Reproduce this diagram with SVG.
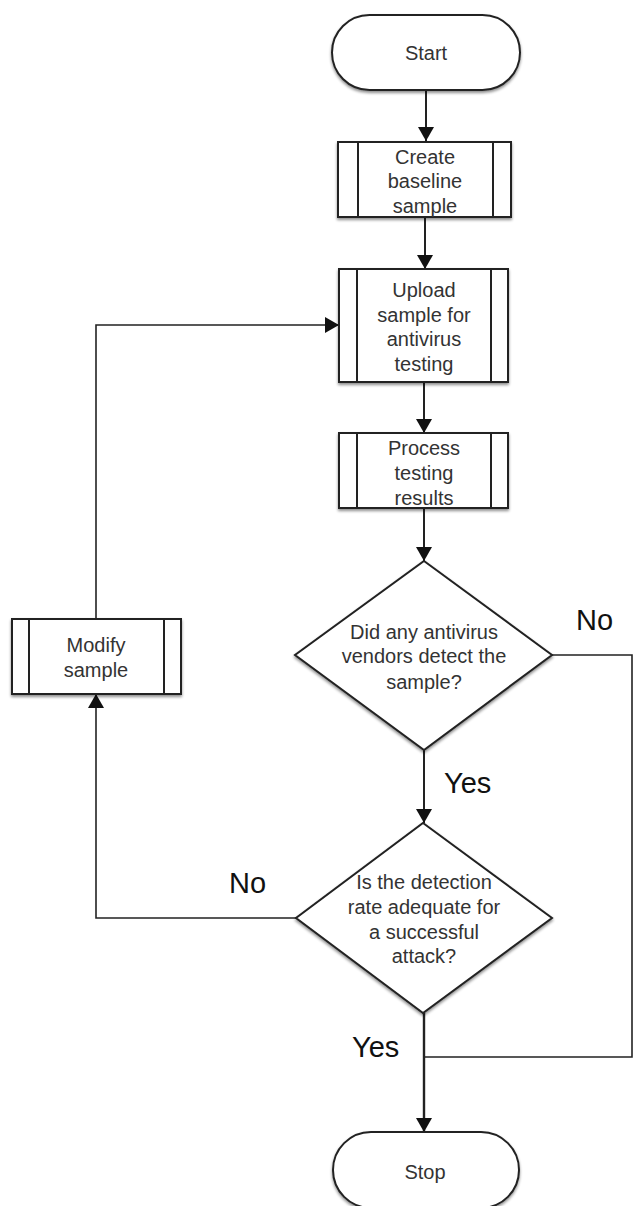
<svg xmlns="http://www.w3.org/2000/svg" width="633" height="1206" viewBox="0 0 633 1206">
<defs>
<style>
.shape{fill:#fff;stroke:#222;stroke-width:2;filter:url(#sh)}
.inner{fill:none;stroke:#222;stroke-width:2}
.t{font-family:"Liberation Sans",Arial,sans-serif;font-size:20px;fill:#333;text-anchor:middle}
.lab{font-family:"Liberation Sans",Arial,sans-serif;font-size:29px;fill:#111}
.c{fill:none;stroke:#222;stroke-width:2}
.c2{fill:none;stroke:#222;stroke-width:1.6}
</style>
<filter id="sh" x="-10%" y="-10%" width="120%" height="130%">
<feGaussianBlur in="SourceAlpha" stdDeviation="1.5"/>
<feOffset dx="0" dy="2" result="b"/>
<feComponentTransfer><feFuncA type="linear" slope="0.45"/></feComponentTransfer>
<feMerge><feMergeNode/><feMergeNode in="SourceGraphic"/></feMerge>
</filter>
<marker id="ah" viewBox="0 0 14 16" refX="14" refY="8" markerWidth="14" markerHeight="16" markerUnits="userSpaceOnUse" orient="auto">
<path d="M0,0 L14,8 L0,16 Z" fill="#111"/>
</marker>
</defs>
<rect width="633" height="1206" fill="#fff"/>

<g id="connectors">
<path class="c" d="M426,90 V141" marker-end="url(#ah)"/>
<path class="c" d="M425,217 V269" marker-end="url(#ah)"/>
<path class="c" d="M424,382 V433" marker-end="url(#ah)"/>
<path class="c" d="M424,508 V561" marker-end="url(#ah)"/>
<path class="c" d="M424,750 V823" marker-end="url(#ah)"/>
<path class="c2" d="M552,655 H632 V1057 H424"/>
<path class="c" d="M424,1013 V1132" marker-end="url(#ah)" style="stroke-width:2.4"/>
<path class="c2" d="M296,918 H96 V694" marker-end="url(#ah)"/>
<path class="c2" d="M96,619 V325 H339" marker-end="url(#ah)"/>
</g>

<g id="start">
<rect class="shape" x="332" y="15" width="188" height="75" rx="37.5"/>
<text class="t" x="426" y="60">Start</text>
</g>

<g id="create">
<rect class="shape" x="338" y="142" width="173" height="75"/>
<path class="inner" d="M358,142 V217 M493,142 V217"/>
<text class="t" x="425" y="164">Create</text>
<text class="t" x="425" y="188">baseline</text>
<text class="t" x="425" y="213">sample</text>
</g>

<g id="upload">
<rect class="shape" x="339" y="269" width="169" height="113"/>
<path class="inner" d="M357,269 V382 M491,269 V382"/>
<text class="t" x="424" y="297">Upload</text>
<text class="t" x="424" y="322">sample for</text>
<text class="t" x="424" y="346">antivirus</text>
<text class="t" x="424" y="371">testing</text>
</g>

<g id="process">
<rect class="shape" x="339" y="433" width="169" height="75"/>
<path class="inner" d="M357,433 V508 M491,433 V508"/>
<text class="t" x="424" y="455">Process</text>
<text class="t" x="424" y="480">testing</text>
<text class="t" x="424" y="505">results</text>
</g>

<g id="decision1">
<polygon class="shape" points="424,561 552,655 424,750 295,655"/>
<text class="t" x="424" y="639">Did any antivirus</text>
<text class="t" x="424" y="663">vendors detect the</text>
<text class="t" x="424" y="689">sample?</text>
</g>

<g id="decision2">
<polygon class="shape" points="423,823 552,918 423,1013 296,918"/>
<text class="t" x="424" y="889">Is the detection</text>
<text class="t" x="424" y="914">rate adequate for</text>
<text class="t" x="424" y="939">a successful</text>
<text class="t" x="424" y="963">attack?</text>
</g>

<g id="modify">
<rect class="shape" x="12" y="619" width="169" height="75"/>
<path class="inner" d="M29,619 V694 M164,619 V694"/>
<text class="t" x="96" y="652">Modify</text>
<text class="t" x="96" y="677">sample</text>
</g>

<g id="stop">
<rect class="shape" x="333" y="1132" width="186" height="76" rx="38"/>
<text class="t" x="425" y="1179">Stop</text>
</g>

<g id="labels">
<text class="lab" x="576" y="630">No</text>
<text class="lab" x="444" y="793">Yes</text>
<text class="lab" x="229" y="893">No</text>
<text class="lab" x="352" y="1057">Yes</text>
</g>
</svg>
